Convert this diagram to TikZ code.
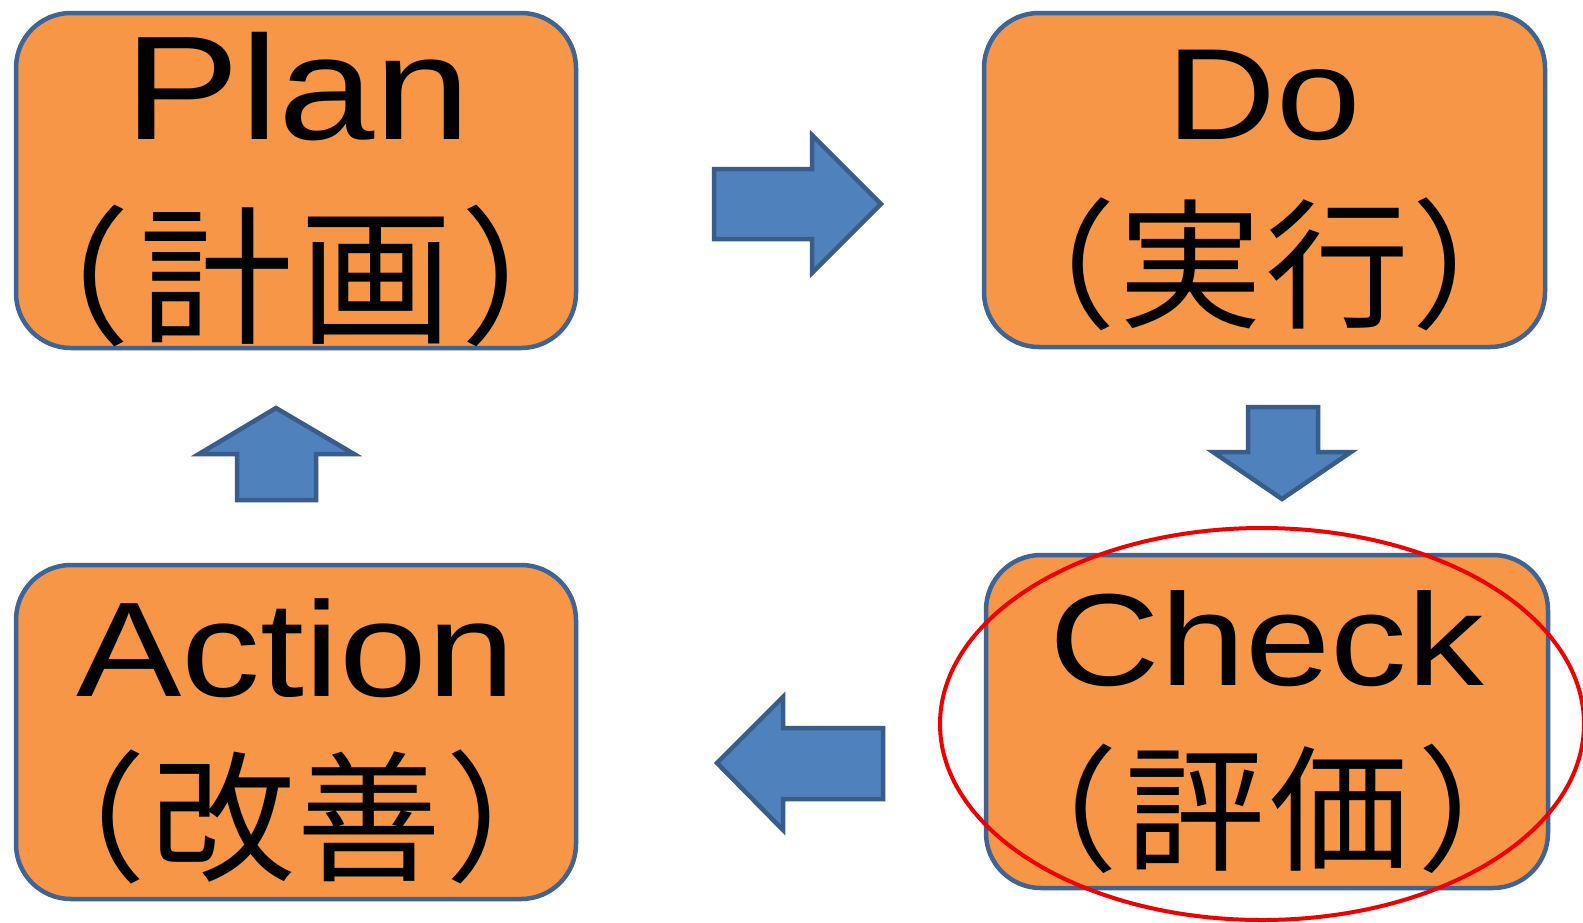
\documentclass[tikz,border=0pt]{standalone}
\usepackage{fontspec}
\setmainfont{Liberation Sans}[FakeStretch=1.17]
\newfontfamily\jpfont{Noto Sans CJK JP}[FakeStretch=1.03]
\definecolor{boxfill}{HTML}{F79646}
\definecolor{boxline}{HTML}{3E6496}
\definecolor{arrfill}{HTML}{4F81BD}
\definecolor{arrline}{HTML}{385D8A}
\definecolor{markred}{HTML}{F00000}
\tikzset{
  stepbox/.style={draw=boxline, fill=boxfill, line width=4.5pt, rounded corners=55pt, inner sep=0pt, outer sep=0pt},
  titletext/.style={inner sep=0pt, anchor=base},
  jptext/.style={inner sep=0pt, anchor=base},
  blockarrow/.style={draw=arrline, fill=arrfill, line width=4.5pt, line join=miter},
  markring/.style={draw=markred, line width=4pt}
}
\newcommand{\tsz}[1]{\fontsize{#1}{#1}\selectfont}
\newcommand{\jsz}[1]{\jpfont\fontsize{#1}{#1}\selectfont}
% paren-spaced Japanese line: #1 paren gap, #2 kanji gap, #3 #4 kanji
\newcommand{\jline}[4]{（\hspace{#1pt}#3\hspace{#2pt}#4\hspace{#1pt}）}
\begin{document}
\begin{tikzpicture}[x=1pt,y=-1pt]
\useasboundingbox (0,0) rectangle (1583,922);
\fill[white] (0,0) rectangle (1583,922);
% boxes
\node[stepbox, minimum width=560pt, minimum height=335pt] (plan) at (296,180.5) {};
\node[stepbox, minimum width=561pt, minimum height=334pt] (do) at (1264.5,180) {};
\node[stepbox, minimum width=560pt, minimum height=334pt] (act) at (296,732) {};
\node[stepbox, minimum width=562pt, minimum height=333pt] (chk) at (1267,721.5) {};
% texts
\node[titletext, font=\tsz{148}] (plant) at (298,139) {Plan};
\node[jptext, font=\jsz{149}] (planj) at (296,332) {\jline{8}{7}{計}{画}};
\node[titletext, font=\tsz{130}] (dot) at (1264,139) {Do};
\node[jptext, font=\jsz{140}] (doj) at (1264,317) {\jline{2}{3}{実}{行}};
\node[titletext, font=\tsz{131}] (chkt) at (1267,685) {Check};
\node[jptext, font=\jsz{136}] (chkj) at (1268,860) {\jline{7}{4}{評}{価}};
\node[titletext, font=\tsz{135}] (actt) at (296,696) {Action};
\node[jptext, font=\jsz{141}] (actj) at (296,870) {\jline{4}{1}{改}{善}};
% arrows
\draw[blockarrow] (714,169) -- (812,169) -- (812,135) -- (881,204) -- (812,273) -- (812,239) -- (714,239) -- cycle;
\draw[blockarrow] (1248,407) -- (1318,407) -- (1318,452) -- (1351,452) -- (1282,499) -- (1213,452) -- (1248,452) -- cycle;
\draw[blockarrow] (883,728) -- (783,728) -- (783,697) -- (717,763) -- (783,830) -- (783,799) -- (883,799) -- cycle;
\draw[blockarrow] (237,500) -- (237,454) -- (199,454) -- (276,408) -- (354,454) -- (316,454) -- (316,500) -- cycle;
% highlight ring
\draw[markring] (1262,724) ellipse [x radius=322pt, y radius=196pt];
\end{tikzpicture}
\end{document}
